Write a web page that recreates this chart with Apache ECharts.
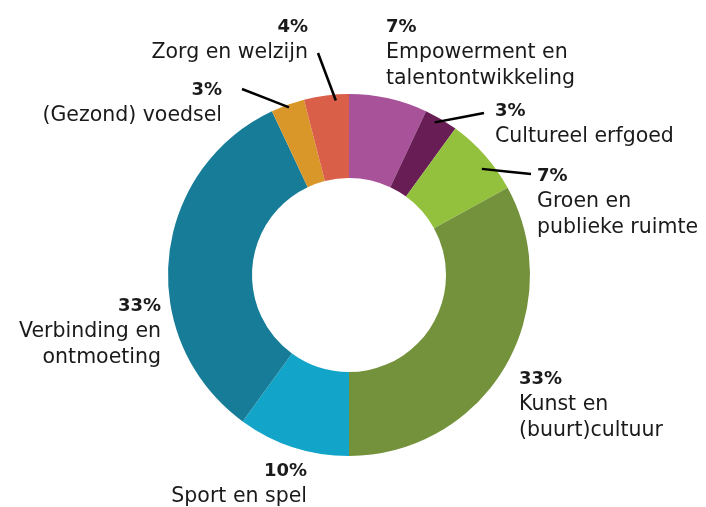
<!DOCTYPE html>
<html lang="nl">
<head>
<meta charset="UTF-8">
<title>Verdeling per thema</title>
<script src="https://cdn.jsdelivr.net/npm/echarts@6/dist/echarts.min.js"></script>
<style>
  html, body { margin: 0; padding: 0; background: #fff; }
  #main { width: 706px; height: 507px; }
</style>
</head>
<body>
<div id="main"></div>
<script>
// thema's, met de klok mee vanaf boven
var themes = [
  'Empowerment en\ntalentontwikkeling',
  'Cultureel erfgoed',
  'Groen en\npublieke ruimte',
  'Kunst en\n(buurt)cultuur',
  'Sport en spel',
  'Verbinding en\nontmoeting',
  '(Gezond) voedsel',
  'Zorg en welzijn'
];
var shares = [7, 3, 7, 33, 10, 33, 3, 4];
var colors = ['#a8529a', '#681d55', '#93c13e', '#73923b', '#13a4c9', '#177c97', '#d9972a', '#d95f48'];

// waar de labels staan (x = anker, y = bovenkant), lijn: t = plek binnen de sector
var labelPos = [
  { x: 386, y: 14, align: 'left' },
  { x: 495, y: 98, align: 'left', line: { t: 0.38, r: 175, x: 484, y: 113 } },
  { x: 537, y: 163, align: 'left', line: { t: 0.61, r: 170, x: 531, y: 174 } },
  { x: 519, y: 366, align: 'left' },
  { x: 307, y: 458, align: 'right' },
  { x: 161, y: 293, align: 'right' },
  { x: 222, y: 77, align: 'right', line: { t: 0.51, r: 178, x: 242, y: 89 } },
  { x: 308, y: 14, align: 'right', line: { t: 0.70, r: 175, x: 318, y: 53 } }
];

var cx = 349, cy = 275;
var total = shares.reduce(function (a, b) { return a + b; }, 0);
var startOf = [];
var acc = 0;
shares.forEach(function (v) { startOf.push(acc); acc += v; });

var chart = echarts.init(document.getElementById('main'));

// ring zelf
var ringData = shares.map(function (v, i) {
  return { name: themes[i], value: v, itemStyle: { color: colors[i] } };
});

// onzichtbare kopie erboven, alleen voor labels + lijntjes (die lopen over de ring heen)
var labelData = shares.map(function (v, i) {
  return {
    name: themes[i],
    value: v,
    label: { align: labelPos[i].align },
    labelLine: { show: !!labelPos[i].line }
  };
});

var option = {
  animation: false,
  series: [
    {
      type: 'pie',
      z: 2,
      center: [cx, cy],
      radius: [97, 181],
      startAngle: 90,
      clockwise: true,
      silent: true,
      label: { show: false },
      labelLine: { show: false },
      data: ringData
    },
    {
      type: 'pie',
      z: 5,
      center: [cx, cy],
      radius: [97, 181],
      startAngle: 90,
      clockwise: true,
      avoidLabelOverlap: false,
      silent: true,
      itemStyle: { color: 'transparent' },
      data: labelData,
      label: {
        show: true,
        position: 'outside',
        fontFamily: 'DejaVu Sans',
        color: '#1a1a1a',
        formatter: function (p) {
          var lines = p.name.split('\n').map(function (s) { return '{n|' + s + '}'; });
          return '{p|' + p.value + '%}\n' + lines.join('\n');
        },
        rich: {
          p: { fontFamily: 'DejaVu Sans', fontSize: 18, fontWeight: 'bold', lineHeight: 26, color: '#1a1a1a' },
          n: { fontFamily: 'DejaVu Sans', fontSize: 20.5, lineHeight: 26, color: '#1a1a1a' }
        }
      },
      labelLine: {
        lineStyle: { color: '#000', width: 2.5 }
      },
      labelLayout: function (params) {
        var i = params.dataIndex;
        var pos = labelPos[i];
        var res = { x: pos.x, y: pos.y, align: pos.align, verticalAlign: 'top' };
        if (pos.line) {
          var a = (startOf[i] + pos.line.t * shares[i]) / total * 2 * Math.PI;
          var p0 = [cx + pos.line.r * Math.sin(a), cy - pos.line.r * Math.cos(a)];
          var p1 = [pos.line.x, pos.line.y];
          res.labelLinePoints = [p0, [(p0[0] + p1[0]) / 2, (p0[1] + p1[1]) / 2], p1];
        }
        return res;
      }
    }
  ]
};

chart.setOption(option);
</script>
</body>
</html>
